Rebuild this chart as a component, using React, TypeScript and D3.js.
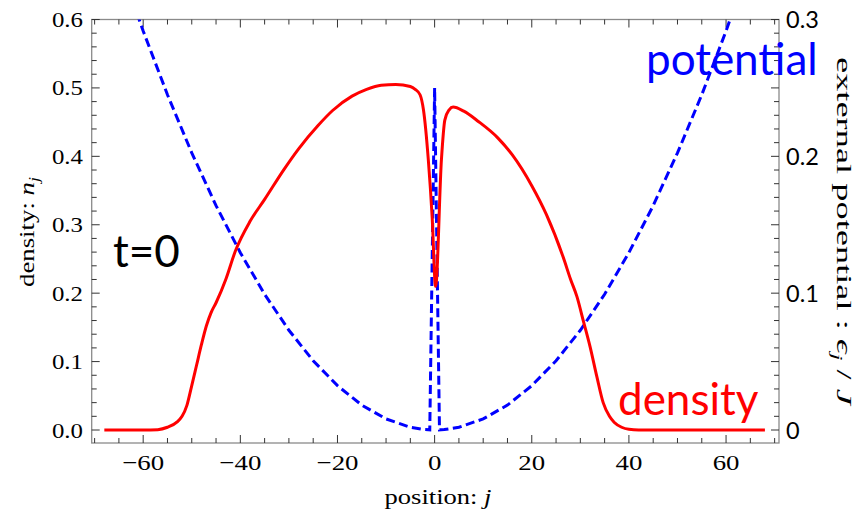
import React from "react";
import * as d3 from "d3";

// density n_j vs position j
const densityJ = [-68, -60, -57, -55, -53, -52, -51, -50, -49, -48, -47, -46, -45, -43, -41, -38, -35, -31, -28, -24, -21, -17, -14, -11, -8, -5, -4, -3, -2.3, -1.3, -0.5, 0.2, 1.4, 2.1, 3, 3.8, 6, 9, 13, 16, 20, 23, 26.5, 28, 29.3, 30.6, 32, 33.4, 34.7, 36, 37, 38.5, 40, 42, 68];
const densityN = [0, 0, 0.0005, 0.004, 0.012, 0.02, 0.036, 0.065, 0.095, 0.125, 0.152, 0.172, 0.186, 0.22, 0.262, 0.305, 0.337, 0.381, 0.411, 0.445, 0.467, 0.488, 0.498, 0.504, 0.505, 0.502, 0.498, 0.49, 0.468, 0.395, 0.31, 0.21, 0.395, 0.453, 0.468, 0.472, 0.466, 0.451, 0.427, 0.402, 0.357, 0.315, 0.252, 0.22, 0.195, 0.16, 0.122, 0.078, 0.04, 0.02, 0.011, 0.004, 0.001, 0, 0];

// external potential eps_j / J
const potJ = [-65, -60, -55, -50, -45, -40, -35, -30, -25, -20, -15, -10, -5, -2, -1, 0, 1, 2, 5, 10, 15, 20, 25, 30, 35, 40, 45, 50, 55, 60, 65];
const potE = [0.342, 0.2916, 0.245, 0.2025, 0.164, 0.1296, 0.0992, 0.0729, 0.0506, 0.0324, 0.0182, 0.0081, 0.002, 0.0003, 0.0001, 0.25, 0.0001, 0.0003, 0.002, 0.0081, 0.0182, 0.0324, 0.0506, 0.0729, 0.0992, 0.1296, 0.164, 0.2025, 0.245, 0.2916, 0.342];

const xMajor = [-60, -40, -20, 0, 20, 40, 60];
const xMinor = d3.range(-70, 71, 5);
const yMajor = [0, 0.1, 0.2, 0.3, 0.4, 0.5, 0.6];
const yMinor = d3.range(0, 0.601, 0.02);
const yLabels = ["0.0", "0.1", "0.2", "0.3", "0.4", "0.5", "0.6"];
const rightVals = [0, 0.1, 0.2, 0.3];
const rightLabels = ["0", "0.1", "0.2", "0.3"];

const W = 863, H = 515;
const L = 91.7, R = 779, T = 19.5, B = 443;

export default function App() {
  const x = d3.scaleLinear().domain([-70.6, 70.9]).range([L, R]);
  const y = d3.scaleLinear().domain([-0.019, 0.6]).range([B, T]);
  const y2 = d3.scaleLinear().domain([-0.0095, 0.3]).range([B, T]);

  const densLine = d3
    .line<number>()
    .x((_, i) => x(densityJ[i]))
    .y((d) => y(d))
    .curve(d3.curveMonotoneX);
  const potLine = d3
    .line<number>()
    .x((_, i) => x(potJ[i]))
    .y((d) => y2(d));

  const serif = "Liberation Serif, Times New Roman, Times, serif";
  const sans = "Lato, Open Sans, sans-serif";
  const frame = "#8a8a8a";
  const tick = "#333";
  const fmt = (v: number) => (v < 0 ? "\u2212" + Math.abs(v) : String(v));

  return (
    <svg width={W} height={H} style={{ position: "absolute", left: 0, top: 0, background: "#fff" }}>
      <defs>
        <clipPath id="plot">
          <rect x={L} y={T} width={R - L} height={B - T} />
        </clipPath>
      </defs>
      {/* frame */}
      <rect x={L} y={T} width={R - L} height={B - T} fill="none" stroke={frame} strokeWidth={1.3} />
      {/* x ticks bottom & top */}
      {xMinor.map((v) => {
        const major = xMajor.includes(v);
        const len = major ? 8 : 5;
        return (
          <g key={"xt" + v} stroke={tick} strokeWidth={1}>
            <line x1={x(v)} x2={x(v)} y1={B} y2={B - len} />
            <line x1={x(v)} x2={x(v)} y1={T} y2={T + len} />
          </g>
        );
      })}
      {/* y ticks left & right */}
      {yMinor.map((v, i) => {
        const major = i % 5 === 0;
        const len = major ? 8 : 5;
        return (
          <g key={"yt" + i} stroke={tick} strokeWidth={1}>
            <line x1={L} x2={L + len} y1={y(v)} y2={y(v)} />
            <line x1={R} x2={R - len} y1={y(v)} y2={y(v)} />
          </g>
        );
      })}
      {/* x tick labels */}
      {xMajor.map((v) => (
        <g key={"xl" + v} transform={`translate(${x(v)},470) scale(1.22,1)`}>
          <text textAnchor="middle" fontFamily={serif} fontSize={22} fill="#000">
            {fmt(v)}
          </text>
        </g>
      ))}
      {/* left tick labels */}
      {yMajor.map((v, i) => (
        <g key={"yl" + i} transform={`translate(83,${y(v) + 7.5}) scale(1.13,1)`}>
          <text textAnchor="end" fontFamily={serif} fontSize={22} fill="#000">
            {yLabels[i]}
          </text>
        </g>
      ))}
      {/* right tick labels */}
      {rightVals.map((v, i) => (
        <text key={"rl" + i} x={786} y={y2(v) + 8.5} fontFamily={sans} fontSize={23.5} fill="#000">
          {rightLabels[i]}
        </text>
      ))}
      {/* axis titles */}
      <text x={438} y={504} textAnchor="middle" fontFamily={serif} fontSize={22} textLength={107} lengthAdjust="spacingAndGlyphs">
        position: <tspan fontStyle="italic">j</tspan>
      </text>
      <text
        transform="translate(34,232) rotate(-90)"
        textAnchor="middle"
        fontFamily={serif}
        fontSize={22}
        textLength={110}
        lengthAdjust="spacingAndGlyphs"
      >
        density: <tspan fontStyle="italic">n</tspan>
        <tspan fontStyle="italic" fontSize={15} dy={5}>j</tspan>
      </text>
      <text
        transform="translate(837,231) rotate(90)"
        textAnchor="middle"
        fontFamily={serif}
        fontSize={22}
        textLength={348}
        lengthAdjust="spacingAndGlyphs"
      >
        external potential : <tspan fontStyle="italic">{"\u03f5"}</tspan>
        <tspan fontStyle="italic" fontSize={15} dy={5}>j</tspan>
        <tspan dy={-5}> / </tspan>
        <tspan fontStyle="italic">J</tspan>
      </text>
      {/* data */}
      <g clipPath="url(#plot)">
        <path d={potLine(potE) || ""} fill="none" stroke="#0000ff" strokeWidth={3} strokeDasharray="9 4.5" />
        <path d={densLine(densityN) || ""} fill="none" stroke="#ff0000" strokeWidth={3} strokeLinejoin="round" />
      </g>
      {/* annotations */}
      <text x={113} y={267} fontFamily={sans} fontSize={44} fill="#000">t=0</text>
      <text x={646} y={75} fontFamily={sans} fontSize={44} fill="#0000ff">potential</text>
      <text x={618} y={415} fontFamily={sans} fontSize={44} fill="#ff0000">density</text>
    </svg>
  );
}
